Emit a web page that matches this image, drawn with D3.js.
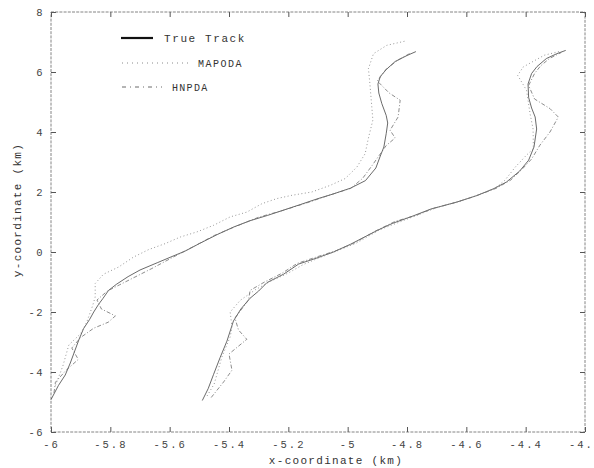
<!DOCTYPE html>
<html>
<head>
<meta charset="utf-8">
<script src="https://cdn.jsdelivr.net/npm/d3@7"></script>
<style>
  body { margin: 0; background: #fff; }
  svg { display: block; }
  .tick text { font-family: "Liberation Mono", "DejaVu Sans Mono", monospace; fill: #444; }
</style>
</head>
<body>
<div id="chart"></div>
<script>
// true tracks (km)
var trueTrack1 = [[-6.00,-4.92],[-5.975,-4.45],[-5.952,-4.10],[-5.935,-3.70],[-5.92,-3.30],[-5.905,-2.90],
  [-5.89,-2.55],[-5.87,-2.25],[-5.856,-2.00],[-5.84,-1.75],[-5.825,-1.55],[-5.806,-1.28],[-5.78,-1.08],
  [-5.74,-0.82],[-5.70,-0.60],[-5.64,-0.35],[-5.58,-0.10],[-5.55,0.02],[-5.50,0.28],[-5.44,0.58],
  [-5.385,0.83],[-5.33,1.04],[-5.27,1.22],[-5.215,1.40],[-5.16,1.58],[-5.10,1.78],[-5.05,1.93],
  [-4.99,2.13],[-4.94,2.38],[-4.905,2.80],[-4.89,3.20],[-4.878,3.50],[-4.87,3.95],[-4.865,4.30],
  [-4.87,4.55],[-4.885,4.95],[-4.895,5.30],[-4.898,5.60],[-4.89,5.85],[-4.87,6.08],[-4.84,6.35],
  [-4.80,6.55],[-4.77,6.68]];

var trueTrack2 = [[-5.49,-4.95],[-5.47,-4.55],[-5.452,-4.08],[-5.43,-3.52],[-5.407,-2.97],[-5.385,-2.30],
  [-5.36,-1.90],[-5.33,-1.55],[-5.30,-1.30],[-5.272,-1.02],[-5.216,-0.74],[-5.165,-0.40],[-5.104,-0.20],
  [-5.048,0.00],[-4.99,0.26],[-4.90,0.72],[-4.85,0.95],[-4.78,1.20],[-4.72,1.43],[-4.63,1.67],
  [-4.565,1.88],[-4.51,2.10],[-4.465,2.33],[-4.42,2.70],[-4.39,3.06],[-4.372,3.50],[-4.363,4.10],
  [-4.368,4.50],[-4.38,4.80],[-4.39,5.15],[-4.392,5.60],[-4.38,5.95],[-4.362,6.18],[-4.33,6.45],
  [-4.295,6.61],[-4.265,6.72]];

// MAPODA estimates
var mapoda1 = [[-5.985,-4.45],[-5.96,-3.80],[-5.94,-3.10],[-5.90,-2.72],[-5.88,-2.35],[-5.86,-1.80],
  [-5.851,-1.50],[-5.851,-1.05],[-5.823,-0.74],[-5.772,-0.50],[-5.722,-0.17],[-5.671,0.08],[-5.615,0.28],
  [-5.564,0.50],[-5.508,0.67],[-5.452,0.89],[-5.396,1.17],[-5.34,1.33],[-5.289,1.61],[-5.239,1.78],
  [-5.188,1.89],[-5.121,2.00],[-5.059,2.22],[-5.008,2.45],[-4.969,2.83],[-4.941,3.28],[-4.93,3.80],
  [-4.915,4.40],[-4.92,5.00],[-4.925,5.60],[-4.93,6.11],[-4.913,6.61],[-4.868,6.89],[-4.806,7.03]];

var mapoda2 = [[-5.474,-4.80],[-5.45,-4.40],[-5.424,-3.50],[-5.396,-2.83],[-5.39,-2.50],[-5.396,-2.00],
  [-5.362,-1.61],[-5.31,-1.25],[-5.26,-0.98],[-5.20,-0.70],[-5.15,-0.42],[-5.09,-0.17],[-5.03,0.06],
  [-4.97,0.30],[-4.89,0.75],[-4.83,0.98],[-4.76,1.25],[-4.70,1.48],[-4.62,1.70],[-4.555,1.92],
  [-4.50,2.15],[-4.47,2.39],[-4.435,2.83],[-4.40,3.20],[-4.374,3.45],[-4.375,4.10],[-4.385,4.60],
  [-4.397,5.39],[-4.427,5.89],[-4.408,6.17],[-4.379,6.33],[-4.337,6.56],[-4.28,6.70]];

// HNPDA estimates
var hnpda1 = [[-5.99,-4.70],[-5.985,-4.34],[-5.95,-3.95],[-5.908,-3.58],[-5.93,-3.20],[-5.90,-2.85],
  [-5.856,-2.54],[-5.807,-2.34],[-5.783,-2.13],[-5.83,-1.90],[-5.845,-1.60],[-5.81,-1.30],[-5.77,-1.10],
  [-5.72,-0.85],[-5.66,-0.55],[-5.59,-0.18],[-5.52,0.18],[-5.45,0.55],[-5.38,0.84],[-5.30,1.16],
  [-5.22,1.38],[-5.14,1.63],[-5.06,1.90],[-4.99,2.12],[-4.95,2.45],[-4.92,2.85],[-4.87,3.55],
  [-4.84,3.80],[-4.857,4.06],[-4.83,4.50],[-4.823,5.06],[-4.86,5.30],[-4.90,5.70],[-4.87,6.10],
  [-4.83,6.40],[-4.79,6.62]];

var hnpda2 = [[-5.46,-4.85],[-5.418,-4.33],[-5.39,-3.94],[-5.40,-3.40],[-5.34,-2.91],[-5.368,-2.60],
  [-5.38,-2.20],[-5.334,-1.60],[-5.329,-1.28],[-5.28,-1.00],[-5.22,-0.70],[-5.17,-0.38],[-5.10,-0.15],
  [-5.04,0.04],[-4.98,0.29],[-4.91,0.68],[-4.84,1.02],[-4.77,1.22],[-4.71,1.46],[-4.64,1.64],
  [-4.57,1.86],[-4.50,2.12],[-4.45,2.40],[-4.41,2.78],[-4.38,3.10],[-4.352,3.56],[-4.318,4.00],
  [-4.29,4.50],[-4.318,4.78],[-4.37,5.10],[-4.39,5.55],[-4.37,5.95],[-4.35,6.20],[-4.32,6.45],
  [-4.28,6.65]];

var xTicks = [-6, -5.8, -5.6, -5.4, -5.2, -5, -4.8, -4.6, -4.4, -4.2];
var yTicks = [-6, -4, -2, 0, 2, 4, 6, 8];
var legendNames = ["True Track", "MAPODA", "HNPDA"];

var width = 594,
    height = 468,
    margin = {top: 12, right: 9, bottom: 36, left: 51},
    chartWidth = width - margin.left - margin.right,
    chartHeight = height - margin.top - margin.bottom;

var svg = d3.select("#chart").append("svg")
    .attr("width", width)
    .attr("height", height);

var chart = svg.append("g")
    .attr("transform", "translate(" + margin.left + "," + margin.top + ")");

var x = d3.scaleLinear().domain([-6, -4.2]).range([0, chartWidth]);
var y = d3.scaleLinear().domain([-6, 8]).range([chartHeight, 0]);

var fmt = function(d){ return String(+d.toFixed(1)); };

// axes, ticks point inward
chart.append("g")
    .attr("transform", "translate(0," + chartHeight + ")")
    .call(d3.axisBottom(x).tickValues(xTicks).tickSize(-5).tickPadding(9).tickFormat(fmt))
    .call(function(g){
      g.select(".domain").remove();
      g.selectAll(".tick line").attr("stroke", "#555");
      g.selectAll(".tick text").attr("font-size", 10.5).attr("letter-spacing", 2);
    });

chart.append("g")
    .call(d3.axisLeft(y).tickValues(yTicks).tickSize(-5).tickPadding(7).tickFormat(fmt))
    .call(function(g){
      g.select(".domain").remove();
      g.selectAll(".tick line").attr("stroke", "#555");
      g.selectAll(".tick text").attr("font-size", 10.5).attr("letter-spacing", 1.5);
    });

chart.append("g")
    .call(d3.axisTop(x).tickValues(xTicks).tickSize(-5).tickFormat(""))
    .call(function(g){ g.select(".domain").remove(); g.selectAll(".tick line").attr("stroke", "#555"); });

chart.append("g")
    .attr("transform", "translate(" + chartWidth + ",0)")
    .call(d3.axisRight(y).tickValues(yTicks).tickSize(-5).tickFormat(""))
    .call(function(g){ g.select(".domain").remove(); g.selectAll(".tick line").attr("stroke", "#555"); });

// frame
chart.append("rect")
    .attr("width", chartWidth)
    .attr("height", chartHeight)
    .attr("fill", "none")
    .attr("stroke", "#666")
    .attr("stroke-width", 0.8)
    .attr("stroke-dasharray", "3,1.2");

var line = d3.line()
    .x(function(d){ return x(d[0]); })
    .y(function(d){ return y(d[1]); });

var styles = [
  {color: "#444", width: 0.8, dash: null},
  {color: "#8a8a8a", width: 0.9, dash: "1,2.5"},
  {color: "#707070", width: 0.8, dash: "4,2,1,2"}
];

var tracks = [
  {data: trueTrack1, s: 0}, {data: trueTrack2, s: 0},
  {data: mapoda1, s: 1}, {data: mapoda2, s: 1},
  {data: hnpda1, s: 2}, {data: hnpda2, s: 2}
];

chart.selectAll("path.track")
  .data(tracks)
  .enter().append("path")
    .attr("class", "track")
    .attr("fill", "none")
    .attr("d", function(d){ return line(d.data); })
    .attr("stroke", function(d){ return styles[d.s].color; })
    .attr("stroke-width", function(d){ return styles[d.s].width; })
    .attr("stroke-dasharray", function(d){ return styles[d.s].dash; });

// legend
var legend = svg.append("g").attr("font-family", "Liberation Mono, DejaVu Sans Mono, monospace");
var legendRows = [
  {x1: 121, x2: 153, y: 38, tx: 164, stroke: "#111", w: 2.2, dash: null, size: 11, ls: 1.6},
  {x1: 122, x2: 191, y: 63, tx: 198, stroke: "#8a8a8a", w: 1, dash: "1,4", size: 10, ls: 1.5},
  {x1: 122, x2: 162, y: 87, tx: 172, stroke: "#6a6a6a", w: 1, dash: "4,4,1,4", size: 10, ls: 1.3}
];

legendRows.forEach(function(r, i){
  legend.append("line")
    .attr("x1", r.x1).attr("x2", r.x2)
    .attr("y1", r.y).attr("y2", r.y)
    .attr("stroke", r.stroke)
    .attr("stroke-width", r.w)
    .attr("stroke-dasharray", r.dash);
  legend.append("text")
    .attr("x", r.tx).attr("y", r.y + 4)
    .attr("font-size", r.size)
    .attr("letter-spacing", r.ls)
    .attr("fill", "#333")
    .text(legendNames[i]);
});

// axis titles
svg.append("text")
    .attr("x", 336).attr("y", 464)
    .attr("text-anchor", "middle")
    .attr("font-family", "Liberation Mono, DejaVu Sans Mono, monospace")
    .attr("font-size", 11)
    .attr("letter-spacing", 1.3)
    .attr("fill", "#333")
    .text("x-coordinate (km)");

svg.append("text")
    .attr("transform", "translate(21,210) rotate(-90)")
    .attr("text-anchor", "middle")
    .attr("font-family", "Liberation Mono, DejaVu Sans Mono, monospace")
    .attr("font-size", 11)
    .attr("letter-spacing", 1.3)
    .attr("fill", "#333")
    .text("y-coordinate (km)");
</script>
</body>
</html>
